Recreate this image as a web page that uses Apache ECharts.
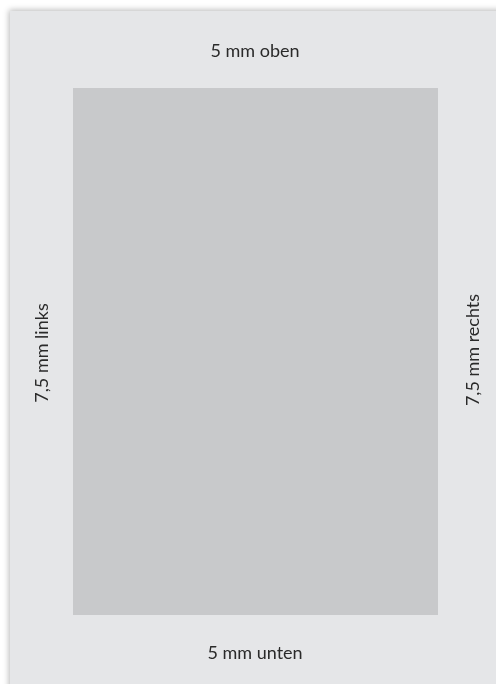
<!DOCTYPE html>
<html>
<head>
<meta charset="utf-8">
<script src="https://cdn.jsdelivr.net/npm/echarts@6/dist/echarts.min.js"></script>
<style>
  html, body { margin: 0; padding: 0; background: #ffffff; }
  #chart { width: 496px; height: 684px; }
</style>
</head>
<body>
<div id="chart"></div>
<script>
// page and type area, in axis units (0..496 x 0..684, y downwards)
const pageBox = [10, 11, 520, 710];
const typeArea = [73, 88, 438, 615];

// margin labels and where they sit
const labels = ['5 mm oben', '5 mm unten', '7,5 mm links', '7,5 mm rechts'];
const labelX = [255, 255, 42, 473];
const labelY = [51, 653, 353, 350];
const labelSide = ['top', 'bottom', 'left', 'right'];

let myChart = echarts.init(document.getElementById('chart'));

const boxes = [
    { name: 'page', value: pageBox, fill: '#e5e6e8', shadow: true },
    { name: 'area', value: typeArea, fill: '#c8c9cb', shadow: false }
];

const textData = labels.map((t, i) => ({ name: t, value: [labelX[i], labelY[i]], side: labelSide[i] }));

let option = {
    animation: false,
    backgroundColor: '#ffffff',
    grid: { left: 0, right: 0, top: 0, bottom: 0 },
    xAxis: { type: 'value', min: 0, max: 496, show: false },
    yAxis: { type: 'value', min: 0, max: 684, inverse: true, show: false },
    series: [
        {
            type: 'custom',
            coordinateSystem: 'cartesian2d',
            clip: false,
            data: boxes.map(b => b.value),
            renderItem: (params, api) => {
                const b = boxes[params.dataIndex];
                const p0 = api.coord([api.value(0), api.value(1)]);
                const p1 = api.coord([api.value(2), api.value(3)]);
                return {
                    type: 'rect',
                    shape: { x: p0[0], y: p0[1], width: p1[0] - p0[0], height: p1[1] - p0[1] },
                    style: b.shadow
                        ? { fill: b.fill, shadowBlur: 6, shadowColor: 'rgba(0,0,0,0.28)', shadowOffsetX: -1, shadowOffsetY: -1 }
                        : { fill: b.fill }
                };
            },
            silent: true
        },
        {
            type: 'custom',
            coordinateSystem: 'cartesian2d',
            clip: false,
            data: textData.map(d => d.value),
            renderItem: (params, api) => {
                const d = textData[params.dataIndex];
                const p = api.coord([api.value(0), api.value(1)]);
                const vertical = d.side === 'left' || d.side === 'right';
                return {
                    type: 'text',
                    x: p[0],
                    y: p[1],
                    rotation: vertical ? Math.PI / 2 : 0,
                    style: {
                        text: d.name,
                        x: 0,
                        y: 0,
                        align: 'center',
                        verticalAlign: 'middle',
                        fill: '#2a2a2a',
                        font: '18px Lato'
                    }
                };
            },
            silent: true
        }
    ]
};

option && myChart.setOption(option);
</script>
</body>
</html>
